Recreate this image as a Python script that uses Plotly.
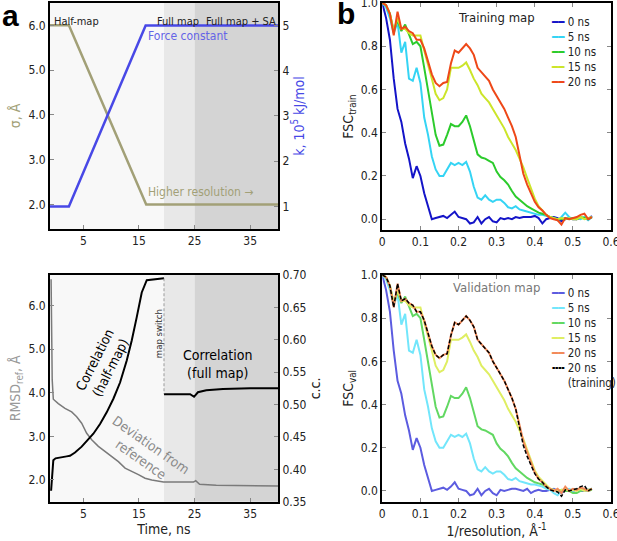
import plotly.graph_objects as go

FONT = "Liberation Sans Narrow, Arial Narrow, DejaVu Sans Condensed, sans-serif"

# ---- panel a, top: restraint schedule ----
SIGMA_T = [-1.0, 2.4, 16.3, 40.0]
SIGMA = [6.0, 6.0, 2.0, 2.0]
FORCE_T = [-1.0, 2.4, 16.2, 40.0]
FORCE_K = [1.0, 1.0, 5.0, 5.0]

# stage boundaries (ns)
STAGES = [(-1.0, 19.5, "#f8f8f8"), (19.5, 25.0, "#e8e8e8"), (25.0, 40.0, "#d4d4d4")]

# ---- panel a, bottom: correlation and RMSD vs time ----
CC_HALF_T = [-0.8, -0.6, -0.4, 0.0, 1.0, 2.0, 2.6, 3.5, 4.7, 5.6, 6.8, 8.0, 9.2,
             10.4, 11.6, 12.8, 13.7, 14.6, 15.5, 16.4, 17.5, 19.5]
CC_HALF = [0.367, 0.40, 0.414, 0.417, 0.419, 0.42, 0.421, 0.426, 0.435, 0.443, 0.455,
           0.47, 0.488, 0.509, 0.534, 0.568, 0.599, 0.635, 0.673, 0.692, 0.693, 0.695]
CC_FULL_T = [19.5, 22.0, 24.2, 24.9, 25.6, 27.1, 30.1, 35.0, 40.0]
CC_FULL = [0.516, 0.516, 0.516, 0.512, 0.519, 0.522, 0.524, 0.525, 0.525]
SWITCH_T = [19.5, 19.5]
SWITCH_CC = [0.695, 0.516]

RMSD_T = [-0.8, -0.6, -0.4, 0.5, 1.7, 2.9, 3.8, 4.7, 5.6, 6.5, 7.7, 8.9, 10.1, 11.3,
          12.5, 13.7, 14.9, 16.1, 17.3, 19.4, 22.0, 24.8, 25.2, 25.9, 28.9, 34.9, 40.0]
RMSD = [6.6, 4.3, 3.85, 3.75, 3.64, 3.56, 3.45, 3.3, 3.07, 2.92, 2.77, 2.65, 2.54, 2.42,
        2.27, 2.2, 2.12, 2.04, 2.0, 1.95, 1.95, 1.95, 1.98, 1.9, 1.88, 1.86, 1.86]

# ---- panel b: FSC curves ----
RES = [0.00, 0.01, 0.02, 0.03, 0.04, 0.05, 0.06, 0.07, 0.08, 0.09,
       0.10, 0.11, 0.12, 0.13, 0.14, 0.15, 0.16, 0.17, 0.18, 0.19,
       0.20, 0.21, 0.22, 0.23, 0.24, 0.25, 0.26, 0.27, 0.28, 0.29,
       0.30, 0.31, 0.32, 0.33, 0.34, 0.35, 0.36, 0.37, 0.38, 0.39,
       0.40, 0.41, 0.42, 0.43, 0.44, 0.45, 0.46, 0.47, 0.48, 0.49,
       0.50, 0.51, 0.52, 0.53, 0.54, 0.55]

TRAIN_0 = [1.0, 0.93, 0.83, 0.65, 0.51, 0.45, 0.35, 0.28, 0.19, 0.245,
           0.20, 0.12, 0.06, 0.0, 0.005, 0.01, 0.015, 0.005, 0.02, 0.035,
           0.01, 0.005, 0.0, -0.02, -0.015, 0.01, -0.02, 0.0, 0.01, -0.01,
           -0.015, 0.005, 0.0, 0.005, 0.0, 0.01, 0.005, 0.01, 0.01, 0.01,
           0.015, 0.005, -0.02, 0.0, 0.005, 0.01, 0.005, -0.01, 0.0, 0.005,
           0.0, 0.0, 0.005, 0.005, 0.0, 0.015]
TRAIN_5 = [1.0, 0.98, 0.93, 0.86, 0.91, 0.77, 0.82, 0.65, 0.64, 0.70,
           0.63, 0.47, 0.39, 0.29, 0.23, 0.20, 0.20, 0.23, 0.26, 0.25,
           0.26, 0.25, 0.265, 0.22, 0.15, 0.10, 0.09, 0.11, 0.09, 0.08,
           0.09, 0.09, 0.075, 0.055, 0.05, 0.06, 0.045, 0.04, 0.035, 0.03,
           0.025, 0.02, 0.02, 0.015, 0.01, 0.005, -0.005, 0.01, 0.03, 0.01,
           0.0, 0.005, 0.0, 0.01, -0.005, 0.01]
TRAIN_10 = [1.0, 0.99, 0.95, 0.87, 0.92, 0.87, 0.90, 0.85, 0.81, 0.82,
            0.80, 0.70, 0.60, 0.49, 0.39, 0.34, 0.345, 0.39, 0.44, 0.43,
            0.43, 0.45, 0.48, 0.43, 0.36, 0.30, 0.285, 0.28, 0.27, 0.26,
            0.22, 0.195, 0.18, 0.16, 0.13, 0.105, 0.09, 0.075, 0.06, 0.05,
            0.04, 0.03, 0.025, 0.02, 0.01, 0.005, 0.0, 0.0, 0.005, 0.0,
            0.005, 0.0, 0.01, 0.005, 0.0, 0.01]
TRAIN_15 = [1.0, 0.99, 0.95, 0.87, 0.93, 0.88, 0.88, 0.86, 0.85, 0.85,
            0.85, 0.78, 0.72, 0.65, 0.58, 0.55, 0.56, 0.60, 0.70, 0.70,
            0.70, 0.71, 0.725, 0.69, 0.65, 0.62, 0.58, 0.56, 0.54, 0.51,
            0.48, 0.45, 0.42, 0.38, 0.35, 0.32, 0.28, 0.24, 0.19, 0.14,
            0.095, 0.06, 0.04, 0.02, 0.01, 0.005, 0.0, 0.005, 0.0, 0.005,
            0.0, 0.0, 0.01, 0.0, 0.005, 0.01]
TRAIN_20 = [1.0, 0.99, 0.95, 0.85, 0.96, 0.88, 0.89, 0.87, 0.86, 0.83,
            0.83, 0.79, 0.73, 0.67, 0.63, 0.615, 0.63, 0.635, 0.72, 0.78,
            0.77, 0.79, 0.81, 0.79, 0.76, 0.70, 0.68, 0.66, 0.64, 0.60,
            0.57, 0.54, 0.51, 0.47, 0.43, 0.38, 0.30, 0.21, 0.16, 0.12,
            0.08, 0.055, 0.04, 0.02, 0.005, 0.0, -0.005, -0.025, 0.005, 0.0,
            0.005, 0.01, 0.02, 0.025, 0.0, 0.01]

VAL_0 = [1.0, 0.93, 0.83, 0.65, 0.51, 0.45, 0.35, 0.28, 0.19, 0.245,
         0.20, 0.12, 0.06, 0.0, 0.005, 0.01, 0.015, 0.005, 0.02, 0.04,
         0.01, 0.005, 0.0, -0.02, -0.015, 0.01, -0.02, 0.0, 0.01, -0.01,
         -0.02, 0.005, 0.0, 0.005, 0.01, 0.01, 0.005, 0.0, 0.01, -0.01,
         0.0, 0.005, 0.0, 0.0, 0.005, 0.01, 0.0, -0.01, 0.005, 0.0,
         0.0, 0.005, 0.0, 0.0, 0.005, 0.01]
VAL_5 = [1.0, 0.98, 0.93, 0.86, 0.91, 0.77, 0.82, 0.65, 0.64, 0.70,
         0.63, 0.47, 0.39, 0.29, 0.23, 0.20, 0.20, 0.23, 0.26, 0.25,
         0.26, 0.25, 0.265, 0.22, 0.15, 0.10, 0.09, 0.11, 0.09, 0.08,
         0.09, 0.09, 0.075, 0.055, 0.05, 0.06, 0.045, 0.04, 0.035, 0.03,
         0.03, 0.025, 0.02, 0.01, 0.005, -0.01, -0.02, 0.0, 0.005, 0.01,
         0.0, 0.01, 0.005, 0.01, 0.005, 0.01]
VAL_10 = [1.0, 0.99, 0.95, 0.87, 0.92, 0.87, 0.90, 0.85, 0.81, 0.82,
          0.80, 0.70, 0.60, 0.49, 0.39, 0.34, 0.345, 0.39, 0.44, 0.43,
          0.43, 0.45, 0.48, 0.43, 0.36, 0.30, 0.285, 0.28, 0.27, 0.26,
          0.22, 0.195, 0.18, 0.16, 0.13, 0.105, 0.09, 0.075, 0.06, 0.05,
          0.04, 0.035, 0.03, 0.02, 0.01, 0.005, 0.0, 0.005, 0.0, 0.0,
          -0.01, -0.01, 0.0, 0.005, 0.0, 0.005]
VAL_15 = [1.0, 0.99, 0.95, 0.87, 0.93, 0.88, 0.88, 0.86, 0.85, 0.85,
          0.85, 0.78, 0.72, 0.65, 0.58, 0.55, 0.56, 0.60, 0.70, 0.70,
          0.70, 0.71, 0.725, 0.69, 0.65, 0.62, 0.58, 0.56, 0.54, 0.51,
          0.48, 0.45, 0.42, 0.38, 0.35, 0.32, 0.28, 0.24, 0.19, 0.14,
          0.095, 0.065, 0.045, 0.025, 0.01, 0.005, 0.0, 0.005, 0.01, 0.0,
          0.005, 0.0, 0.01, 0.0, 0.005, 0.01]
VAL_20 = [1.0, 0.99, 0.95, 0.85, 0.96, 0.88, 0.89, 0.87, 0.86, 0.83,
          0.83, 0.79, 0.73, 0.67, 0.63, 0.615, 0.63, 0.635, 0.72, 0.78,
          0.77, 0.79, 0.81, 0.79, 0.76, 0.70, 0.68, 0.66, 0.64, 0.60,
          0.57, 0.54, 0.51, 0.47, 0.43, 0.38, 0.31, 0.23, 0.18, 0.13,
          0.085, 0.055, 0.04, 0.02, 0.01, 0.0, 0.01, -0.01, 0.02, 0.0,
          0.01, 0.005, 0.015, 0.01, 0.0, 0.01]

LABELS = ["0 ns", "5 ns", "10 ns", "15 ns", "20 ns"]
TRAIN_COLORS = ["#1414c8", "#35d4f4", "#2ccb2c", "#cce52a", "#ee4818"]
VAL_COLORS = ["#5c5ce0", "#72e6fb", "#62d862", "#dfee62", "#f28a5a"]

OLIVE = "#a2a077"
BLUE = "#4848e6"
GRAY = "#7a7a7a"

fig = go.Figure()

# stage shading, panels a top and bottom
for x0, x1, col in STAGES:
    for xr, yr in (("x", "y"), ("x2", "y3")):
        fig.add_shape(type="rect", xref=xr, yref=f"{yr} domain", x0=x0, x1=x1, y0=0, y1=1,
                      fillcolor=col, line_width=0, layer="below")

fig.add_trace(go.Scatter(x=SIGMA_T, y=SIGMA, mode="lines", line=dict(color=OLIVE, width=2.5),
                         xaxis="x", yaxis="y", showlegend=False))
fig.add_trace(go.Scatter(x=FORCE_T, y=FORCE_K, mode="lines", line=dict(color=BLUE, width=2.5),
                         xaxis="x", yaxis="y2", showlegend=False))

fig.add_trace(go.Scatter(x=RMSD_T, y=RMSD, mode="lines", line=dict(color=GRAY, width=1.5),
                         xaxis="x2", yaxis="y3", showlegend=False))
fig.add_trace(go.Scatter(x=CC_HALF_T, y=CC_HALF, mode="lines", line=dict(color="black", width=2),
                         xaxis="x2", yaxis="y4", showlegend=False))
fig.add_trace(go.Scatter(x=CC_FULL_T, y=CC_FULL, mode="lines", line=dict(color="black", width=2),
                         xaxis="x2", yaxis="y4", showlegend=False))
fig.add_trace(go.Scatter(x=SWITCH_T, y=SWITCH_CC, mode="lines",
                         line=dict(color="#777", width=0.7, dash="3px,2px"),
                         xaxis="x2", yaxis="y4", showlegend=False))

for ys, lab, col in zip([TRAIN_0, TRAIN_5, TRAIN_10, TRAIN_15, TRAIN_20], LABELS, TRAIN_COLORS):
    fig.add_trace(go.Scatter(x=RES, y=ys, mode="lines", name=lab, line=dict(color=col, width=2),
                             xaxis="x3", yaxis="y5", showlegend=False))
for ys, lab, col in zip([VAL_0, VAL_5, VAL_10, VAL_15, VAL_20], LABELS, VAL_COLORS):
    fig.add_trace(go.Scatter(x=RES, y=ys, mode="lines", name=lab, line=dict(color=col, width=2),
                             xaxis="x4", yaxis="y6", showlegend=False))
fig.add_trace(go.Scatter(x=RES, y=TRAIN_20, mode="lines", name="20 ns (training)",
                         line=dict(color="black", width=1.5, dash="4px,2px"),
                         xaxis="x4", yaxis="y6", showlegend=False))

TICKFONT = dict(family=FONT, size=12, color="#222")
frame = dict(showline=True, linecolor="black", linewidth=2, ticks="inside", ticklen=4,
             tickcolor="#888", showgrid=False, zeroline=False, tickfont=TICKFONT,
             automargin=False, ticklabeloverflow="allow")

XA = [0.081, 0.4506]
XB = [0.6196, 0.9903]
Y_TOP_A = [0.5767, 0.9945]
Y_BOT = [0.0726, 0.4917]
Y_TOP_B = [0.5749, 0.9945]

fig.update_layout(
    width=617, height=541, margin=dict(l=0, r=0, t=0, b=0),
    paper_bgcolor="white", plot_bgcolor="rgba(0,0,0,0)",
    font=dict(family=FONT, size=12, color="#222"),
    showlegend=False,
    xaxis=dict(frame, domain=XA, range=[-1, 40], tickvals=[5, 15, 25, 35], anchor="y",
               mirror=True),
    yaxis=dict(frame, domain=Y_TOP_A, range=[1.45, 6.5], tickvals=[2, 3, 4, 5, 6],
               tickformat=".1f", anchor="x",
               title=dict(text="σ, Å", font=dict(family=FONT, size=14, color=OLIVE), standoff=4)),
    yaxis2=dict(frame, domain=Y_TOP_A, range=[0.5, 5.5], tickvals=[1, 2, 3, 4, 5],
                overlaying="y", side="right", anchor="x",
                title=dict(text="k, 10<sup>5</sup> kJ/mol", font=dict(family=FONT, size=14, color=BLUE),
                           standoff=4)),
    xaxis2=dict(frame, domain=XA, range=[-1, 40], tickvals=[5, 15, 25, 35], anchor="y3",
                mirror=True,
                title=dict(text="Time, ns", font=dict(family=FONT, size=14, color="#222"), standoff=2)),
    yaxis3=dict(frame, domain=Y_BOT, range=[1.5, 6.7], tickvals=[2, 3, 4, 5, 6],
                tickformat=".1f", anchor="x2",
                title=dict(text="RMSD<sub>ref</sub>, Å", font=dict(family=FONT, size=14, color="#999"),
                           standoff=4)),
    yaxis4=dict(frame, domain=Y_BOT, range=[0.35, 0.70],
                tickvals=[0.35, 0.40, 0.45, 0.50, 0.55, 0.60, 0.65, 0.70], tickformat=".2f",
                overlaying="y3", side="right", anchor="x2",
                title=dict(text="c.c.", font=dict(family=FONT, size=14, color="#222"), standoff=2)),
    xaxis3=dict(frame, domain=XB, range=[0, 0.6], tickvals=[0, 0.1, 0.2, 0.3, 0.4, 0.5, 0.6],
                ticktext=["0", "0.1", "0.2", "0.3", "0.4", "0.5", "0.6"], anchor="y5", mirror="ticks"),
    yaxis5=dict(frame, domain=Y_TOP_B, range=[-0.05, 1.0], tickvals=[0, 0.2, 0.4, 0.6, 0.8, 1.0],
                tickformat=".1f", anchor="x3", mirror="ticks",
                title=dict(text="FSC<sub>train</sub>", font=dict(family=FONT, size=14, color="#222"),
                           standoff=4)),
    xaxis4=dict(frame, domain=XB, range=[0, 0.6], tickvals=[0, 0.1, 0.2, 0.3, 0.4, 0.5, 0.6],
                ticktext=["0", "0.1", "0.2", "0.3", "0.4", "0.5", "0.6"], anchor="y6", mirror="ticks",
                title=dict(text="1/resolution, Å<sup>-1</sup>", font=dict(family=FONT, size=14, color="#222"),
                           standoff=2)),
    yaxis6=dict(frame, domain=Y_BOT, range=[-0.05, 1.0], tickvals=[0, 0.2, 0.4, 0.6, 0.8, 1.0],
                tickformat=".1f", anchor="x4", mirror="ticks",
                title=dict(text="FSC<sub>val</sub>", font=dict(family=FONT, size=14, color="#222"),
                           standoff=4)),
)


def key_lines(labels, colors, symbol="━━"):
    return "<br>".join(f"<span style='color:{c}'>{symbol}</span> {t}" for t, c in zip(labels, colors))


legend_top = key_lines(LABELS, TRAIN_COLORS)
legend_bot = (key_lines(LABELS, VAL_COLORS)
              + "<br><span style='color:black'>╍╍</span> 20 ns"
              + "<br><span style='color:rgba(0,0,0,0)'>━━</span> (training)")

ann = [
    # panel letters
    dict(text="<b>a</b>", xref="paper", yref="paper", x=0.0, y=1.005, xanchor="left", yanchor="top",
         font=dict(family="Liberation Sans, Arial, sans-serif", size=30, color="black")),
    dict(text="<b>b</b>", xref="paper", yref="paper", x=0.543, y=1.01, xanchor="left", yanchor="top",
         font=dict(family="Liberation Sans, Arial, sans-serif", size=30, color="black")),
    # stage names
    dict(text="Half-map", xref="x", yref="y domain", x=-0.7, y=0.956, xanchor="left",
         font=dict(size=11)),
    dict(text="Full map", xref="x", yref="y domain", x=22.1, y=0.956, font=dict(size=11)),
    dict(text="Full map + SA", xref="x", yref="y domain", x=33.3, y=0.956, font=dict(size=11)),
    dict(text="Force constant", xref="x", yref="y2", x=16.3, y=4.77, xanchor="left",
         font=dict(color="#6464e6", size=12)),
    dict(text="Higher resolution →", xref="x", yref="y", x=16.3, y=2.28, xanchor="left",
         font=dict(color=OLIVE, size=12)),
    # bottom a
    dict(text="Correlation<br>(half-map)", xref="x2", yref="y4", x=8.4, y=0.563, textangle=-63,
         font=dict(size=13.5, color="black")),
    dict(text="Deviation from<br>reference", xref="x2", yref="y4", x=16.2, y=0.427, textangle=35,
         font=dict(size=13.5, color="#8a8a8a")),
    dict(text="map switch", xref="x2", yref="y4", x=18.4, y=0.61, textangle=-90,
         font=dict(size=9.5, color="#333")),
    dict(text="Correlation<br>(full map)", xref="x2", yref="y4", x=29.1, y=0.562,
         font=dict(size=14, color="black")),
    # panel b titles
    dict(text="Training map", xref="x3", yref="y5", x=0.30, y=0.935, font=dict(size=13, color="#222")),
    dict(text="Validation map", xref="x4", yref="y6", x=0.30, y=0.94, font=dict(size=13, color="#777")),
    # keys
    dict(text=legend_top, xref="paper", yref="paper", x=0.889, y=1 - 13 / 541,
         xanchor="left", yanchor="top", align="left", font=dict(size=11.5)),
    dict(text=legend_bot, xref="paper", yref="paper", x=0.889, y=1 - 284 / 541,
         xanchor="left", yanchor="top", align="left", font=dict(size=11.5)),
]
for a in ann:
    a.setdefault("showarrow", False)
    f = a.setdefault("font", {})
    f.setdefault("family", FONT)
    f.setdefault("size", 12)
    f.setdefault("color", "#222")
fig.update_layout(annotations=ann)

# the page body has an 8px default margin; remove it so the figure fills the window
fig.write_html("out.html", config={"displayModeBar": False},
               post_script="document.body.style.margin='0';")
